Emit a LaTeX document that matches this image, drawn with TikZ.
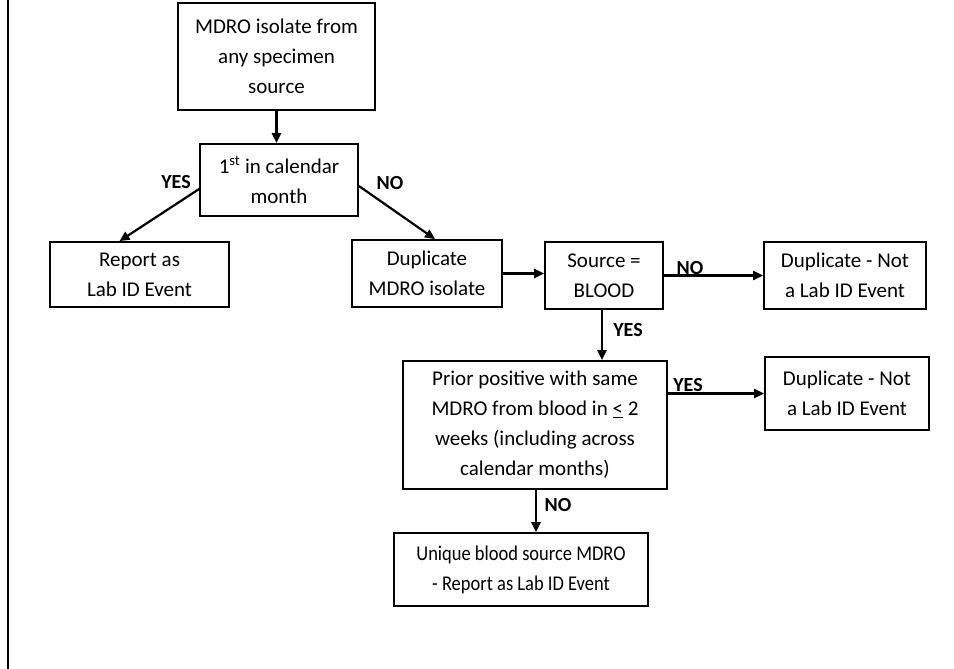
\documentclass[tikz,border=0pt]{standalone}
\usepackage{fontspec}
\setmainfont{Carlito}
\usetikzlibrary{arrows.meta,calc}
\begin{document}
\begin{tikzpicture}[x=1pt,y=-1pt,
  box/.style={draw,line width=1.8pt,inner sep=0pt,align=center,font={\fontsize{21}{30}\selectfont}},
  conn/.style={line width=2.2pt,-{Triangle[length=10pt,width=9pt]}},
  lbl/.style={font={\fontsize{20}{22}\selectfont\bfseries},inner sep=0pt}]
\useasboundingbox (0,0) rectangle (954,669);
\fill[white] (0,0) rectangle (954,669);
\draw[line width=2pt] (8,0) -- (8,669);
\node[box,minimum width=197pt,minimum height=107pt] (top) at (276.5,56.5) {MDRO isolate from\\any specimen\\source};
\node[box,minimum width=158pt,minimum height=72pt] (first) at (279,180) {1\textsuperscript{st} in calendar\\month};
\node[box,minimum width=179pt,minimum height=65pt] (report) at (139.5,274.5) {Report as\\Lab ID Event};
\node[box,minimum width=150pt,minimum height=67pt] (dup) at (427,273.5) {Duplicate\\MDRO isolate};
\node[box,minimum width=118pt,minimum height=67pt] (src) at (604,275.5) {Source =\\BLOOD};
\node[box,minimum width=162pt,minimum height=67pt] (dn1) at (845,275.5) {Duplicate - Not\\a Lab ID Event};
\node[box,minimum width=264pt,minimum height=128pt] (prior) at (535,425) {Prior positive with same\\MDRO from blood in \underline{<} 2\\weeks (including across\\calendar months)};
\node[box,minimum width=164pt,minimum height=73pt] (dn2) at (847,393.5) {Duplicate - Not\\a Lab ID Event};
\node[box,minimum width=254pt,minimum height=73pt] (uniq) at (521,569.5) {\scalebox{0.88}[1]{Unique blood source MDRO}\\\scalebox{0.88}[1]{- Report as Lab ID Event}};
\coordinate (a1) at ($(first.west)+(0,9)$);
\coordinate (a2) at ($(report.north)+(-20,0)$);
\coordinate (b1) at ($(first.east)+(0,6)$);
\coordinate (b2) at ($(dup.north)+(8,0)$);
\coordinate (c1) at ($(src.south)+(-2,0)$);
\coordinate (d1) at ($(prior.south)+(1,0)$);
\draw[conn] (top.south) -- (top.south |- first.north);
\draw[conn] (a1) -- (a2);
\draw[conn] (b1) -- (b2);
\draw[conn] (dup.east) -- (dup.east -| src.west);
\draw[conn] (src.east) -- (dn1.west);
\draw[conn] (c1) -- (c1 |- prior.north);
\draw[conn] (prior.east |- dn2.west) -- (dn2.west);
\draw[conn] (d1) -- (d1 |- uniq.north);
\node[lbl] (l1) at (176,182) {YES};
\node[lbl] (l2) at (390,183) {NO};
\node[lbl] (l3) at (690,268) {NO};
\node[lbl] (l4) at (628,330) {YES};
\node[lbl] (l5) at (688,385) {YES};
\node[lbl] (l6) at (558,505) {NO};
\end{tikzpicture}
\end{document}
